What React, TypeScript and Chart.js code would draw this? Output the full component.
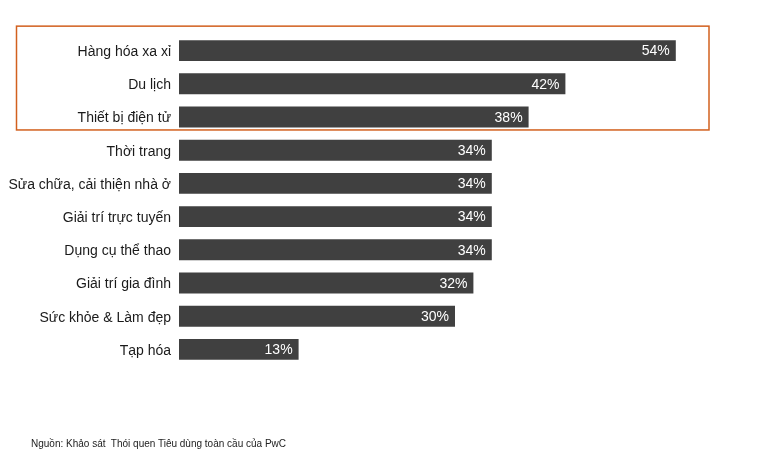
import React, { useEffect, useRef } from "react";
import { Chart, registerables } from "chart.js";

Chart.register(...registerables);

const categories = [
  "Hàng hóa xa xỉ",
  "Du lịch",
  "Thiết bị điện tử",
  "Thời trang",
  "Sửa chữa, cải thiện nhà ở",
  "Giải trí trực tuyến",
  "Dụng cụ thể thao",
  "Giải trí gia đình",
  "Sức khỏe & Làm đẹp",
  "Tạp hóa",
];
const values = [54, 42, 38, 34, 34, 34, 34, 32, 30, 13];
const highlightCount = 3;
const sourceText = "Nguồn: Khảo sát  Thói quen Tiêu dùng toàn cầu của PwC";

const FONT = "'Liberation Sans', Arial, sans-serif";

export default function App() {
  const ref = useRef<HTMLCanvasElement | null>(null);
  useEffect(() => {
    if (!ref.current) return;
    const labelPlugin = {
      id: "valueLabels",
      afterDatasetsDraw(chart: any) {
        const ctx = chart.ctx;
        const meta = chart.getDatasetMeta(0);
        ctx.save();
        ctx.font = `14px ${FONT}`;
        ctx.fillStyle = "#ffffff";
        ctx.textAlign = "right";
        ctx.textBaseline = "middle";
        meta.data.forEach((bar: any, i: number) => {
          ctx.fillText(values[i] + "%", bar.x - 6, bar.y + 1);
        });
        // highlight box
        const b0 = meta.data[0];
        const bN = meta.data[highlightCount - 1];
        const h0 = b0.height;
        const top = b0.y - h0 / 2 - 14;
        const bottom = bN.y + bN.height / 2 + 2.5;
        ctx.strokeStyle = "#d2601e";
        ctx.lineWidth = 1.5;
        ctx.strokeRect(16.5, top, 709 - 16.5, bottom - top);
        ctx.restore();
      },
    };
    const chart = new Chart(ref.current, {
      type: "bar",
      data: {
        labels: categories,
        datasets: [
          {
            data: values,
            backgroundColor: "#404040",
            barPercentage: 0.63,
            categoryPercentage: 1,
          },
        ],
      },
      options: {
        indexAxis: "y",
        animation: false,
        responsive: true,
        maintainAspectRatio: false,
        layout: { padding: { top: 34, bottom: 89, left: 0, right: 53 } },
        plugins: { legend: { display: false }, tooltip: { enabled: false } },
        scales: {
          x: {
            display: false,
            min: 0,
            max: 60,
          },
          y: {
            grid: { display: false, drawTicks: false },
            border: { display: false },
            ticks: {
              color: "#1a1a1a",
              font: { family: FONT, size: 14 },
              padding: 8,
              labelOffset: 1.5,
            },
            afterFit(scale: any) {
              scale.width = 179;
            },
          },
        },
      },
      plugins: [labelPlugin],
    });
    return () => chart.destroy();
  }, []);
  return (
    <div style={{ position: "absolute", left: 0, top: 0, width: 784, height: 455, background: "#fff" }}>
      <canvas ref={ref} />
      <div
        style={{
          position: "absolute",
          left: 31,
          top: 438,
          fontFamily: FONT,
          fontSize: 10,
          color: "#222",
          whiteSpace: "pre",
        }}
      >
        {sourceText}
      </div>
    </div>
  );
}
